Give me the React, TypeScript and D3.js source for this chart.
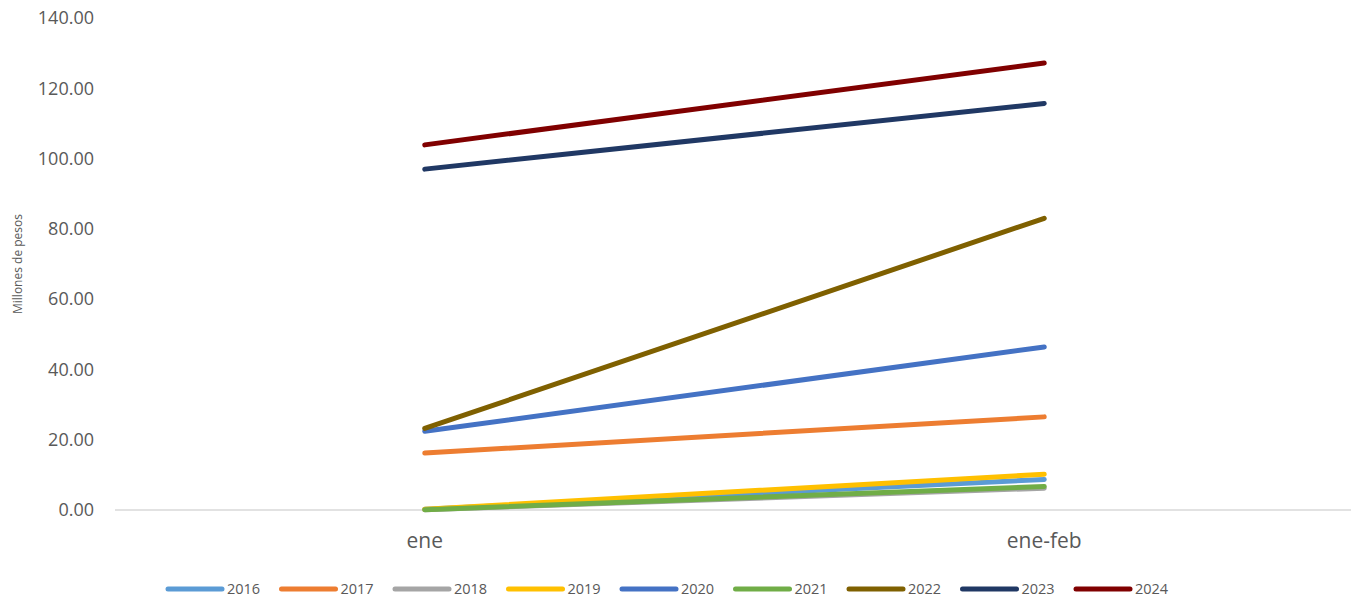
import React from "react";
import * as d3 from "d3";

const categories = ["ene", "ene-feb"];
const seriesNames = ["2016", "2017", "2018", "2019", "2020", "2021", "2022", "2023", "2024"];
const colors = ["#5B9BD5", "#ED7D31", "#A5A5A5", "#FFC000", "#4472C4", "#70AD47", "#7F6000", "#203864", "#800000"];
const v2016 = [0.2, 8.7];
const v2017 = [16.2, 26.5];
const v2018 = [0.1, 6.2];
const v2019 = [0.2, 10.2];
const v2020 = [22.4, 46.4];
const v2021 = [0.1, 6.7];
const v2022 = [23.2, 83.0];
const v2023 = [97.0, 115.7];
const v2024 = [103.9, 127.2];
const seriesValues = [v2016, v2017, v2018, v2019, v2020, v2021, v2022, v2023, v2024];
const yTicks = [0, 20, 40, 60, 80, 100, 120, 140];

export default function App() {
  const W = 1351, H = 597;
  const x = d3.scalePoint<string>().domain(categories).range([115, 1354]).padding(0.5);
  const y = d3.scaleLinear().domain([0, 140]).range([510, 18]);
  const line = d3.line<number>().x((_, i) => x(categories[i]) as number).y((d) => y(d));
  const font = "'Open Sans', 'Noto Sans', sans-serif";
  return (
    <svg width={W} height={H} style={{ position: "absolute", left: 0, top: 0, background: "#fff" }}>
      <line x1={115} x2={1351} y1={y(0)} y2={y(0)} stroke="#d9d9d9" strokeWidth={1.5} />
      {yTicks.map((t) => (
        <text key={t} x={94} y={y(t)} dy="0.35em" textAnchor="end" fontSize={18} fill="#595959" fontFamily={font}>
          {t.toFixed(2)}
        </text>
      ))}
      <text transform={`translate(22,${y(70)}) rotate(-90)`} textAnchor="middle" fontSize={12} fill="#595959" fontFamily={font}>
        Millones de pesos
      </text>
      {categories.map((c) => (
        <text key={c} x={x(c) as number} y={541} dy="0.35em" textAnchor="middle" fontSize={21} fill="#595959" fontFamily={font}>
          {c}
        </text>
      ))}
      {seriesValues.map((vals, i) => (
        <path key={seriesNames[i]} d={line(vals) as string} fill="none" stroke={colors[i]} strokeWidth={5} strokeLinecap="round" strokeLinejoin="round" />
      ))}
      {seriesNames.map((n, i) => {
        const lx = 168 + i * 113.5;
        return (
          <g key={n}>
            <line x1={lx} x2={lx + 54} y1={589} y2={589} stroke={colors[i]} strokeWidth={5} strokeLinecap="round" />
            <text x={lx + 59} y={589} dy="0.35em" fontSize={14.5} fill="#595959" fontFamily={font}>
              {n}
            </text>
          </g>
        );
      })}
    </svg>
  );
}
